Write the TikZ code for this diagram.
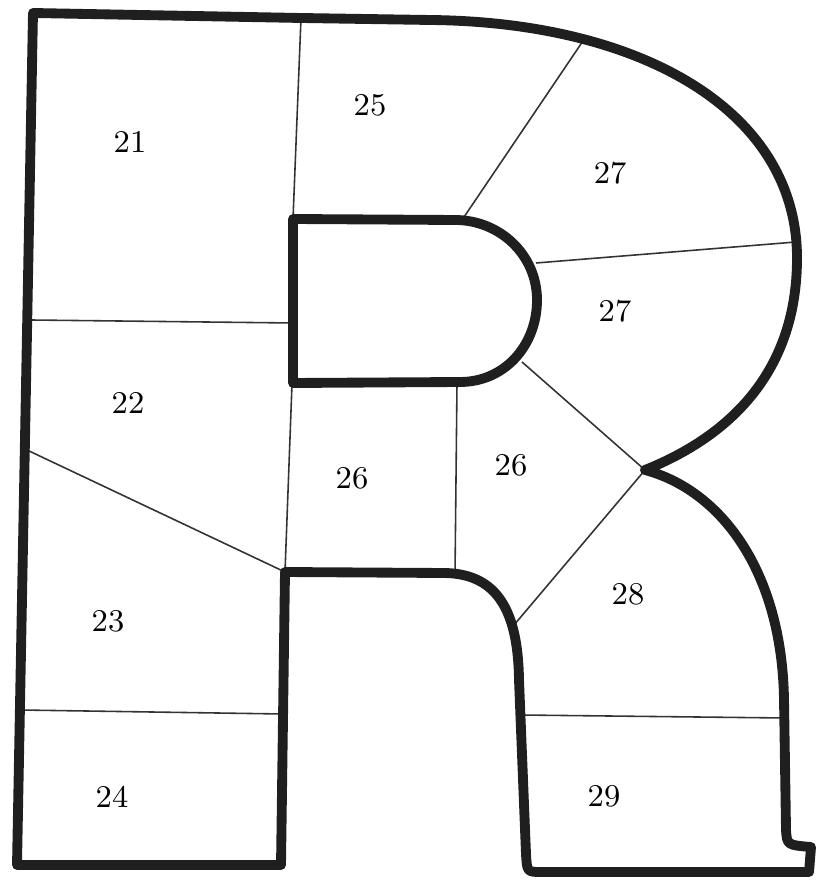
\documentclass[tikz,border=0pt]{standalone}
\usetikzlibrary{positioning,calc}
\tikzset{
  rim/.style={draw=black!88,line width=2.8pt,line join=round},
  cut/.style={draw=black!80,line width=0.45pt},
  num/.style={font=\fontsize{9}{9}\selectfont,inner sep=0pt},
}
\begin{document}
\begin{tikzpicture}[x=0.01cm,y=-0.01cm]
\useasboundingbox (0,0) rectangle (815,886);
% outline of the letter
\coordinate (o0) at (33,13);
\coordinate (o1) at (301,18);
\coordinate (o2) at (430,20);
\coordinate (o3) at (797,258);
\coordinate (o4) at (645,470);
\coordinate (o5) at (784,700);
\coordinate (o6) at (786,830);
\coordinate (o7) at (811,847);
\coordinate (o8) at (809,872);
\coordinate (o9) at (542,872);
\coordinate (o10) at (526,854);
\coordinate (o11) at (519,680);
\coordinate (o12) at (445,573);
\coordinate (o13) at (285,572);
\coordinate (o14) at (281,865);
\coordinate (o15) at (17,865);
% counter of the bowl
\coordinate (h0) at (293,219);
\coordinate (h1) at (455,220);
\coordinate (h2) at (537,300);
\coordinate (h3) at (460,382);
\coordinate (h4) at (293,383);
% ends of the cuts
\coordinate (c0) at (31,320);
\coordinate (c1) at (293,323);
\coordinate (c2) at (27,450);
\coordinate (c3) at (21,710);
\coordinate (c4) at (283,714);
\coordinate (c5) at (292,384);
\coordinate (c6) at (457,383);
\coordinate (c7) at (455,574);
\coordinate (c8) at (585,38);
\coordinate (c9) at (462,220);
\coordinate (c10) at (536,263);
\coordinate (c11) at (796,242);
\coordinate (c12) at (522,362);
\coordinate (c13) at (514,625);
\coordinate (c14) at (521,715);
\coordinate (c15) at (786,718);
\draw[cut] (o1)--(h0);
\draw[cut] (c0)--(c1);
\draw[cut] (c2)--(o13);
\draw[cut] (c3)--(c4);
\draw[cut] (c5)--(o13);
\draw[cut] (c6)--(c7);
\draw[cut] (c8)--(c9);
\draw[cut] (c10)--(c11);
\draw[cut] (c12)--(o4);
\draw[cut] (o4)--(c13);
\draw[cut] (c14)--(c15);
\draw[rim] (o0)--(o1)--(o2) .. controls (640,22) and (797,110) .. (o3)
  .. controls (797,380) and (720,440) .. (o4)
  .. controls (720,490) and (782,570) .. (o5)
  --(o6) .. controls (787,845) .. (o7) --(o8)--(o9)
  .. controls (527,872) .. (o10) --(o11)
  .. controls (518,612) and (498,574) .. (o12)
  --(o13)--(o14)--(o15)--cycle;
\draw[rim] (h0)--(h1) .. controls (500,220) and (537,255) .. (h2)
  .. controls (537,345) and (505,382) .. (h3) --(h4)--cycle;
% numbers
\node[num] (n21) at (130,142) {21};
\node[num] (n25) at (370,105) {25};
\node[num] (n27a) at (610,173) {27};
\node[num] (n27b) at (615,311) {27};
\node[num] (n22) at (128,403) {22};
\node[num] (n26a) at (352,478) {26};
\node[num] (n26b) at (511,465) {26};
\node[num] (n23) at (108,621) {23};
\node[num] (n28) at (628,594) {28};
\node[num] (n24) at (112,797) {24};
\node[num] (n29) at (604,796) {29};
\end{tikzpicture}
\end{document}
